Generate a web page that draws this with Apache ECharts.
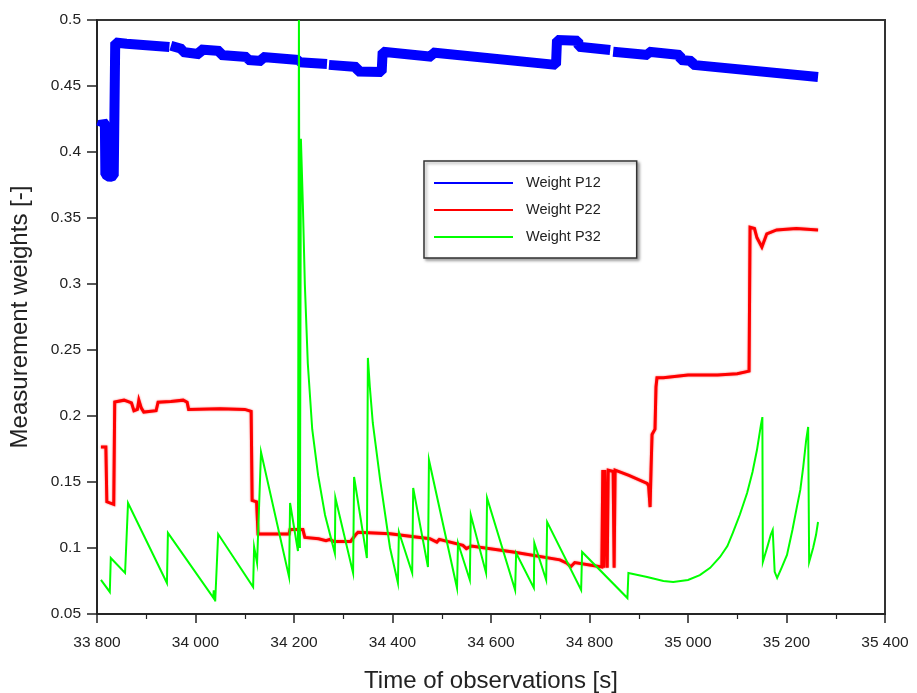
<!DOCTYPE html>
<html>
<head>
<meta charset="utf-8">
<title>Measurement weights</title>
<script src="https://cdn.jsdelivr.net/npm/echarts@6/dist/echarts.min.js"></script>
<style>
  html, body { margin: 0; padding: 0; background: #fff; }
  #chart { width: 917px; height: 693px; }
</style>
</head>
<body>
<div id="chart"></div>
<script>
// Axis tick labels
const timeTickLabels = ['33 800', '34 000', '34 200', '34 400', '34 600', '34 800', '35 000', '35 200', '35 400'];
const weightTickLabels = ['0.05', '0.1', '0.15', '0.2', '0.25', '0.3', '0.35', '0.4', '0.45', '0.5'];

// Series names
const seriesNames = ['Weight P12', 'Weight P22', 'Weight P32'];

// Weight P12: [time (s), weight]; null marks a break in the record
const weightP12 = [
  [33808, 0.419], [33812, 0.423], [33816, 0.421], [33817, 0.383], [33826, 0.381], [33834, 0.382],
  [33837, 0.483], [33860, 0.482], [33862, 0.481], [33947, 0.4795], [33948, null],
  [33950, 0.4805], [33973, 0.478], [33974, 0.4758], [34009, 0.474], [34010, 0.4777], [34050, 0.4765],
  [34051, 0.4735], [34105, 0.472], [34106, 0.4697], [34135, 0.469], [34136, 0.472], [34210, 0.4697],
  [34211, 0.468], [34267, 0.4667], [34269, null],
  [34271, 0.466], [34328, 0.4644], [34329, 0.461], [34378, 0.4606], [34380, 0.476], [34480, 0.4722],
  [34481, 0.4754], [34732, 0.466], [34734, 0.4848], [34777, 0.4843], [34778, 0.4798], [34842, 0.4773],
  [34845, null],
  [34848, 0.476], [34919, 0.4735], [34920, 0.476], [34984, 0.4735], [34985, 0.4697], [35008, 0.469],
  [35010, 0.466], [35264, 0.4568]
];

// Weight P22
const weightP22 = [
  [33808, 0.1765], [33818, 0.1765], [33820, 0.135], [33834, 0.133], [33836, 0.2106], [33855, 0.212],
  [33870, 0.210], [33875, 0.204], [33882, 0.205], [33885, 0.212], [33890, 0.206], [33895, 0.203],
  [33920, 0.204], [33924, 0.2105], [33950, 0.211], [33975, 0.212], [33983, 0.2105], [33986, 0.205],
  [34050, 0.2055], [34100, 0.205], [34113, 0.2035], [34115, 0.136], [34124, 0.135], [34127, 0.1106],
  [34190, 0.1106], [34192, 0.114], [34218, 0.114], [34222, 0.108], [34250, 0.107], [34265, 0.1055],
  [34273, 0.1065], [34280, 0.105], [34315, 0.105], [34325, 0.110], [34330, 0.112], [34395, 0.1108],
  [34476, 0.107], [34490, 0.1045], [34495, 0.1065], [34543, 0.102], [34550, 0.0995], [34560, 0.1015],
  [34645, 0.097], [34740, 0.091], [34754, 0.0885], [34762, 0.0858], [34770, 0.089], [34825, 0.0856],
  [34827, 0.159], [34829, 0.085], [34831, 0.159], [34834, 0.159], [34836, 0.085], [34838, 0.159],
  [34848, 0.158], [34850, 0.085], [34852, 0.159], [34880, 0.155], [34917, 0.149], [34920, 0.147],
  [34923, 0.131], [34925, 0.160], [34927, 0.186], [34933, 0.190], [34935, 0.222], [34937, 0.229],
  [34950, 0.229], [35000, 0.231], [35060, 0.231], [35100, 0.232], [35124, 0.234], [35126, 0.343],
  [35135, 0.342], [35140, 0.335], [35150, 0.328], [35160, 0.338], [35180, 0.341], [35220, 0.342],
  [35264, 0.341]
];

// Weight P32
const weightP32 = [
  [33808, 0.0758], [33826, 0.0667], [33828, 0.0924], [33857, 0.0811], [33863, 0.1341], [33942, 0.0735],
  [33944, 0.1114], [34036, 0.0625], [34037, 0.068], [34040, 0.0595], [34046, 0.1106], [34117, 0.0705],
  [34119, 0.1008], [34125, 0.0886], [34133, 0.1727], [34190, 0.078], [34192, 0.1341], [34208, 0.0977],
  [34210, 0.5], [34212, 0.100], [34214, 0.41], [34218, 0.36], [34222, 0.30], [34228, 0.24],
  [34237, 0.19], [34249, 0.155], [34263, 0.125], [34283, 0.096], [34284, 0.138], [34320, 0.081],
  [34322, 0.1538], [34348, 0.0924], [34350, 0.244], [34354, 0.222], [34360, 0.1947], [34375, 0.1515],
  [34395, 0.100], [34411, 0.0735], [34413, 0.1121], [34440, 0.0811], [34442, 0.1455], [34472, 0.0856],
  [34474, 0.1667], [34531, 0.0697], [34533, 0.1038], [34557, 0.0758], [34559, 0.125], [34590, 0.0811],
  [34592, 0.1379], [34649, 0.0682], [34651, 0.0962], [34687, 0.0697], [34688, 0.1038], [34712, 0.0758],
  [34714, 0.1197], [34783, 0.0682], [34785, 0.097], [34877, 0.0621], [34879, 0.0811], [34917, 0.078],
  [34950, 0.075], [34970, 0.0742], [35000, 0.0758], [35024, 0.0795], [35045, 0.085], [35065, 0.0932],
  [35080, 0.1015], [35091, 0.1114], [35105, 0.125], [35120, 0.1417], [35131, 0.1576], [35140, 0.1742],
  [35148, 0.193], [35151, 0.1992], [35152, 0.0894], [35158, 0.097], [35162, 0.102], [35168, 0.110],
  [35172, 0.1136], [35176, 0.082], [35181, 0.0773], [35190, 0.085], [35201, 0.0947], [35212, 0.1136],
  [35221, 0.131], [35228, 0.144], [35234, 0.1614], [35240, 0.182], [35244, 0.1917], [35246, 0.0894],
  [35254, 0.100], [35260, 0.110], [35264, 0.1197]
];

const FONT = '"Liberation Sans", Arial, sans-serif';
const INK = '#222';

const chart = echarts.init(document.getElementById('chart'), null, { renderer: 'canvas' });

chart.setOption({
  backgroundColor: '#fff',
  animation: false,
  grid: {
    left: 97, right: 32, top: 20, bottom: 79,
    containLabel: false, outerBoundsMode: 'none',
    show: true, borderColor: '#333', borderWidth: 2, backgroundColor: 'transparent'
  },
  legend: {
    orient: 'vertical',
    left: 424, top: 161,
    padding: [14, 36, 13, 10],
    itemGap: 11,
    itemWidth: 79, itemHeight: 2,
    icon: 'rect',
    backgroundColor: '#fff',
    borderColor: '#333', borderWidth: 1.5, borderRadius: 0,
    shadowColor: 'rgba(0,0,0,0.35)', shadowBlur: 3, shadowOffsetX: 2, shadowOffsetY: 2,
    textStyle: { fontFamily: FONT, fontSize: 14.5, color: INK, lineHeight: 16, padding: [0, 0, 0, 8] },
    data: seriesNames
  },
  xAxis: {
    type: 'value',
    min: 33800, max: 35400, interval: 200,
    name: 'Time of observations [s]',
    nameLocation: 'middle', nameGap: 55,
    nameTextStyle: { fontFamily: FONT, fontSize: 24, color: INK },
    axisLine: { show: true, lineStyle: { color: INK, width: 1.5 } },
    axisTick: { show: true, inside: false, length: 9, lineStyle: { color: INK, width: 1.5 } },
    minorTick: { show: true, splitNumber: 2, length: 5, lineStyle: { color: INK, width: 1.2 } },
    splitLine: { show: false },
    axisLabel: {
      fontFamily: FONT, fontSize: 15.5, color: INK, margin: 21,
      formatter: v => timeTickLabels[Math.round((v - 33800) / 200)]
    }
  },
  yAxis: {
    type: 'value',
    min: 0.05, max: 0.5, interval: 0.05,
    name: 'Measurement weights [-]',
    nameLocation: 'middle', nameGap: 65, nameRotate: 90,
    nameTextStyle: { fontFamily: FONT, fontSize: 24, color: INK },
    axisLine: { show: true, lineStyle: { color: INK, width: 1.5 } },
    axisTick: { show: true, inside: false, length: 10, lineStyle: { color: INK, width: 1.5 } },
    splitLine: { show: false },
    axisLabel: {
      fontFamily: FONT, fontSize: 15.5, color: INK, margin: 16,
      formatter: v => weightTickLabels[Math.round((v - 0.05) / 0.05)]
    }
  },
  series: [
    {
      name: seriesNames[0], type: 'line', data: weightP12,
      showSymbol: false, symbol: 'none', connectNulls: false,
      color: '#0000ff',
      lineStyle: { color: '#0000ff', width: 10, cap: 'butt', join: 'bevel' },
      z: 2
    },
    {
      name: seriesNames[1], type: 'line', data: weightP22,
      showSymbol: false, symbol: 'none',
      color: '#ff0000',
      lineStyle: { color: '#ff0000', width: 3, cap: 'butt', join: 'miter', shadowColor: 'rgba(255,0,0,0.6)', shadowBlur: 2 },
      z: 3
    },
    {
      name: seriesNames[2], type: 'line', data: weightP32,
      showSymbol: false, symbol: 'none',
      color: '#00ff00',
      lineStyle: { color: '#00ff00', width: 2, join: 'miter' },
      z: 4
    }
  ]
});
</script>
</body>
</html>
